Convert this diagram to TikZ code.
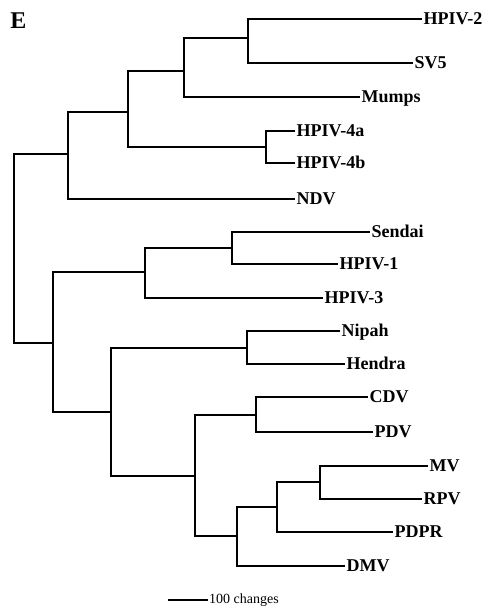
\documentclass[tikz,border=0pt]{standalone}
\usepackage{fontspec}
\setmainfont{Liberation Serif}
\usepackage{tikz}

\begin{document}
\begin{tikzpicture}[x=1pt, y=-1pt,
    branch/.style={line width=2.6pt, line join=miter},
    taxon/.style={anchor=west, inner sep=1.5pt, text height=11.9pt, text depth=0pt, font=\fontsize{18}{18}\selectfont\bfseries}]
  \useasboundingbox (0,0) rectangle (493,607);

  \node[font=\fontsize{24}{24}\selectfont\bfseries, inner sep=0pt] (panel) at (18.5,21) {E};

  % tips
  \node[taxon] (hpiv2)  at (422,19)  {HPIV-2};
  \node[taxon] (sv5)    at (413,63)  {SV5};
  \node[taxon] (mumps)  at (360,97)  {Mumps};
  \node[taxon] (hpiv4a) at (295,131) {HPIV-4a};
  \node[taxon] (hpiv4b) at (295,163) {HPIV-4b};
  \node[taxon] (ndv)    at (295,199) {NDV};
  \node[taxon] (sendai) at (370,232) {Sendai};
  \node[taxon] (hpiv1)  at (338,264) {HPIV-1};
  \node[taxon] (hpiv3)  at (323,298) {HPIV-3};
  \node[taxon] (nipah)  at (340,331) {Nipah};
  \node[taxon] (hendra) at (345,364) {Hendra};
  \node[taxon] (cdv)    at (368,397) {CDV};
  \node[taxon] (pdv)    at (373,432) {PDV};
  \node[taxon] (mv)     at (428,466) {MV};
  \node[taxon] (rpv)    at (422,499) {RPV};
  \node[taxon] (pdpr)   at (393,532) {PDPR};
  \node[taxon] (dmv)    at (345,566) {DMV};

  % internal nodes
  \coordinate (root) at (14,248);
  \coordinate (rubA) at (248,38);
  \coordinate (rubB) at (184,71);
  \coordinate (rubC) at (128,112);
  \coordinate (rubD) at (266,147);
  \coordinate (rubE) at (68,154);
  \coordinate (parA) at (53,343);
  \coordinate (parB) at (145,272);
  \coordinate (parC) at (232,248);
  \coordinate (henA) at (111,412);
  \coordinate (henB) at (247,348);
  \coordinate (morA) at (195,476);
  \coordinate (morB) at (256,415);
  \coordinate (morC) at (237,536);
  \coordinate (morD) at (277,507);
  \coordinate (morE) at (320,482);

  \draw[branch] (root) |- (rubE);
  \draw[branch] (root) |- (parA);
  \draw[branch] (rubE) |- (rubC);
  \draw[branch] (rubE) |- (ndv.west);
  \draw[branch] (rubC) |- (rubB);
  \draw[branch] (rubC) |- (rubD);
  \draw[branch] (rubB) |- (rubA);
  \draw[branch] (rubB) |- (mumps.west);
  \draw[branch] (rubA) |- (hpiv2.west);
  \draw[branch] (rubA) |- (sv5.west);
  \draw[branch] (rubD) |- (hpiv4a.west);
  \draw[branch] (rubD) |- (hpiv4b.west);
  \draw[branch] (parA) |- (parB);
  \draw[branch] (parA) |- (henA);
  \draw[branch] (parB) |- (parC);
  \draw[branch] (parB) |- (hpiv3.west);
  \draw[branch] (parC) |- (sendai.west);
  \draw[branch] (parC) |- (hpiv1.west);
  \draw[branch] (henA) |- (henB);
  \draw[branch] (henA) |- (morA);
  \draw[branch] (henB) |- (nipah.west);
  \draw[branch] (henB) |- (hendra.west);
  \draw[branch] (morA) |- (morB);
  \draw[branch] (morA) |- (morC);
  \draw[branch] (morB) |- (cdv.west);
  \draw[branch] (morB) |- (pdv.west);
  \draw[branch] (morC) |- (morD);
  \draw[branch] (morC) |- (dmv.west);
  \draw[branch] (morD) |- (morE);
  \draw[branch] (morD) |- (pdpr.west);
  \draw[branch] (morE) |- (mv.west);
  \draw[branch] (morE) |- (rpv.west);

  % scale bar
  \coordinate (bar) at (168,600);
  \node[anchor=west, inner sep=1pt, font=\fontsize{14}{14}\selectfont] (barlabel) at (208,600) {100 changes};
  \draw[line width=2pt] (bar) -- (barlabel.west);
\end{tikzpicture}
\end{document}
